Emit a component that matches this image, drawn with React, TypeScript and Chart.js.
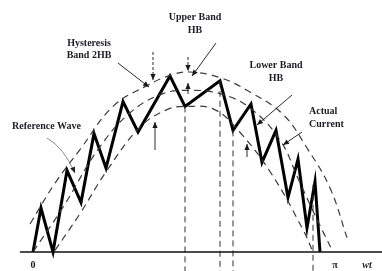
import React, { useEffect, useRef } from "react";
import { Chart, registerables } from "chart.js";
Chart.register(...registerables);

// angle in degrees (0..180 = 0..π), amplitude in per-unit of the reference peak
const actualX = [0, 4.8, 12, 20.4, 28.8, 36.6, 43.8, 54, 63, 82.2, 91.2, 112.2, 120, 130.8, 137.4, 145.8, 153, 159, 164.4, 169.2, 172.2];
const actualY = [0, 0.275, 0, 0.51, 0.31, 0.74, 0.525, 0.94, 0.75, 1.1, 0.91, 1.07, 0.76, 0.925, 0.56, 0.76, 0.34, 0.58, 0.15, 0.44, 0];

const refX = [0, 18, 39, 58.2, 78, 94.2, 112.2, 130.2, 148.2, 159, 169.2, 180];
const refY = [0, 0.28, 0.64, 0.87, 0.99, 1.01, 0.99, 0.9, 0.7, 0.46, 0.23, 0];

const upperX = [-1.8, 13.2, 28.2, 48, 68.4, 84, 94.2, 112.2, 130.2, 150, 164.4, 178.2, 188.4];
const upperY = [0.175, 0.43, 0.64, 0.91, 1.04, 1.11, 1.125, 1.09, 1.0, 0.86, 0.65, 0.4, 0.09];

const lowerX = [13.2, 28.2, 44.4, 64.2, 80.4, 92.4, 109, 124, 143, 162, 168];
const lowerY = [0.01, 0.24, 0.51, 0.78, 0.89, 0.91, 0.89, 0.75, 0.49, 0.14, 0];

// dashed verticals dropped from switching points
const dropX = [91.2, 112.2, 120, 168];
const dropTop = [0.91, 1.07, 0.76, 0.42];
const dropBottom = -0.12;

const axisFrom = -7.8;
const axisTo = 209.4;

const tickLabels = ["0", "π", "wt"];
const tickX = [0, 181.2, 200.4];
const tickY = -0.081;

type Label = { text: string; x: number; y: number; align: CanvasTextAlign };
const labels: Label[] = [
  { text: "Upper Band", x: 97.2, y: 1.469, align: "center" },
  { text: "HB", x: 97.2, y: 1.3875, align: "center" },
  { text: "Hysteresis", x: 33.6, y: 1.306, align: "center" },
  { text: "Band 2HB", x: 33.6, y: 1.231, align: "center" },
  { text: "Lower Band", x: 145.8, y: 1.169, align: "center" },
  { text: "HB", x: 145.8, y: 1.0875, align: "center" },
  { text: "Actual", x: 165.6, y: 0.881, align: "left" },
  { text: "Current", x: 165.6, y: 0.8, align: "left" },
  { text: "Reference Wave", x: -12.6, y: 0.7875, align: "left" },
];

type Arrow = { x0: number; y0: number; x1: number; y1: number; dashed?: boolean };
const arrows: Arrow[] = [
  { x0: 51, y0: 1.181, x1: 69.6, y1: 1.031 },
  { x0: 72, y0: 1.25, x1: 72, y1: 1.075, dashed: true },
  { x0: 73.2, y0: 0.6375, x1: 73.2, y1: 0.8125 },
  { x0: 109.8, y0: 1.306, x1: 95.4, y1: 1.1 },
  { x0: 93, y0: 1.219, x1: 93, y1: 1.131, dashed: true },
  { x0: 93, y0: 0.9875, x1: 93, y1: 1.056 },
  { x0: 155.4, y0: 0.981, x1: 134.4, y1: 0.794 },
  { x0: 128.4, y0: 0.594, x1: 128.4, y1: 0.675 },
  { x0: 161.4, y0: 0.75, x1: 150, y1: 0.669 },
];
// curved pointer for "Reference Wave": start, control, end
const refPointer = [8.4, 0.7125, 18.6, 0.65, 25.2, 0.494];

const pts = (xs: number[], ys: number[]) => xs.map((x, i) => ({ x, y: ys[i] }));

const annotPlugin = {
  id: "annot",
  afterDatasetsDraw(chart: any) {
    const { ctx, scales } = chart;
    const X = (v: number) => scales.x.getPixelForValue(v);
    const Y = (v: number) => scales.y.getPixelForValue(v);
    const head = (x0: number, y0: number, x1: number, y1: number) => {
      const a = Math.atan2(y1 - y0, x1 - x0);
      const L = 6, W = 2.6;
      ctx.beginPath();
      ctx.moveTo(x1, y1);
      ctx.lineTo(x1 - L * Math.cos(a) + W * Math.sin(a), y1 - L * Math.sin(a) - W * Math.cos(a));
      ctx.lineTo(x1 - L * Math.cos(a) - W * Math.sin(a), y1 - L * Math.sin(a) + W * Math.cos(a));
      ctx.closePath();
      ctx.fill();
    };
    ctx.save();
    ctx.strokeStyle = "#2a2a2a";
    ctx.fillStyle = "#1a1a1a";
    ctx.lineWidth = 1;
    for (const a of arrows) {
      const x0 = X(a.x0), y0 = Y(a.y0), x1 = X(a.x1), y1 = Y(a.y1);
      ctx.setLineDash(a.dashed ? [3, 2] : []);
      ctx.beginPath();
      ctx.moveTo(x0, y0);
      ctx.lineTo(x1, y1);
      ctx.stroke();
      ctx.setLineDash([]);
      head(x0, y0, x1, y1);
    }
    // curved pointer
    const [sx, sy, cx, cy, ex, ey] = refPointer;
    ctx.strokeStyle = "#8a8a8a";
    ctx.beginPath();
    ctx.moveTo(X(sx), Y(sy));
    ctx.quadraticCurveTo(X(cx), Y(cy), X(ex), Y(ey));
    ctx.stroke();
    ctx.fillStyle = "#222";
    head(X(cx), Y(cy), X(ex), Y(ey));

    // labels
    ctx.fillStyle = "#1c1c28";
    ctx.textBaseline = "middle";
    ctx.font = "bold 10px 'Liberation Serif', 'DejaVu Serif', serif";
    for (const l of labels) {
      ctx.textAlign = l.align;
      ctx.fillText(l.text, X(l.x), Y(l.y));
    }
    ctx.textAlign = "center";
    tickLabels.forEach((t, i) => {
      ctx.font = (i === 2 ? "italic " : "") + "bold 10px 'Liberation Serif', 'DejaVu Serif', serif";
      ctx.fillText(t, X(tickX[i]), Y(tickY));
    });
    ctx.restore();
  },
};

export default function App() {
  const ref = useRef<HTMLCanvasElement>(null);
  useEffect(() => {
    document.body.style.margin = "0";
    const dashed = { borderColor: "#3a3a3a", borderWidth: 1.2, borderDash: [7, 5], tension: 0.4 };
    const datasets: any[] = [
      { data: [{ x: axisFrom, y: 0 }, { x: axisTo, y: 0 }], borderColor: "#111", borderWidth: 1.5 },
      { data: pts(upperX, upperY), ...dashed },
      { data: pts(refX, refY), ...dashed },
      { data: pts(lowerX, lowerY), ...dashed },
      ...dropX.map((x, i) => ({
        data: [{ x, y: dropTop[i] }, { x, y: dropBottom }],
        borderColor: "#333",
        borderWidth: 1,
        borderDash: [6, 4],
      })),
      { data: pts(actualX, actualY), borderColor: "#000", borderWidth: 3, borderJoinStyle: "miter" },
    ].map((d) => ({ showLine: true, pointRadius: 0, fill: false, ...d }));

    const chart = new Chart(ref.current as HTMLCanvasElement, {
      type: "scatter",
      data: { datasets },
      options: {
        responsive: false,
        animation: false,
        devicePixelRatio: 1,
        layout: { padding: 0 },
        plugins: { legend: { display: false }, tooltip: { enabled: false } },
        scales: {
          x: { type: "linear", display: false, min: -19.8, max: 209.4 },
          y: { type: "linear", display: false, min: -0.11875, max: 1.575 },
        },
      },
      plugins: [annotPlugin],
    });
    return () => chart.destroy();
  }, []);
  return (
    <div style={{ width: 382, height: 271, background: "#fff" }}>
      <canvas ref={ref} width={382} height={271} />
    </div>
  );
}
